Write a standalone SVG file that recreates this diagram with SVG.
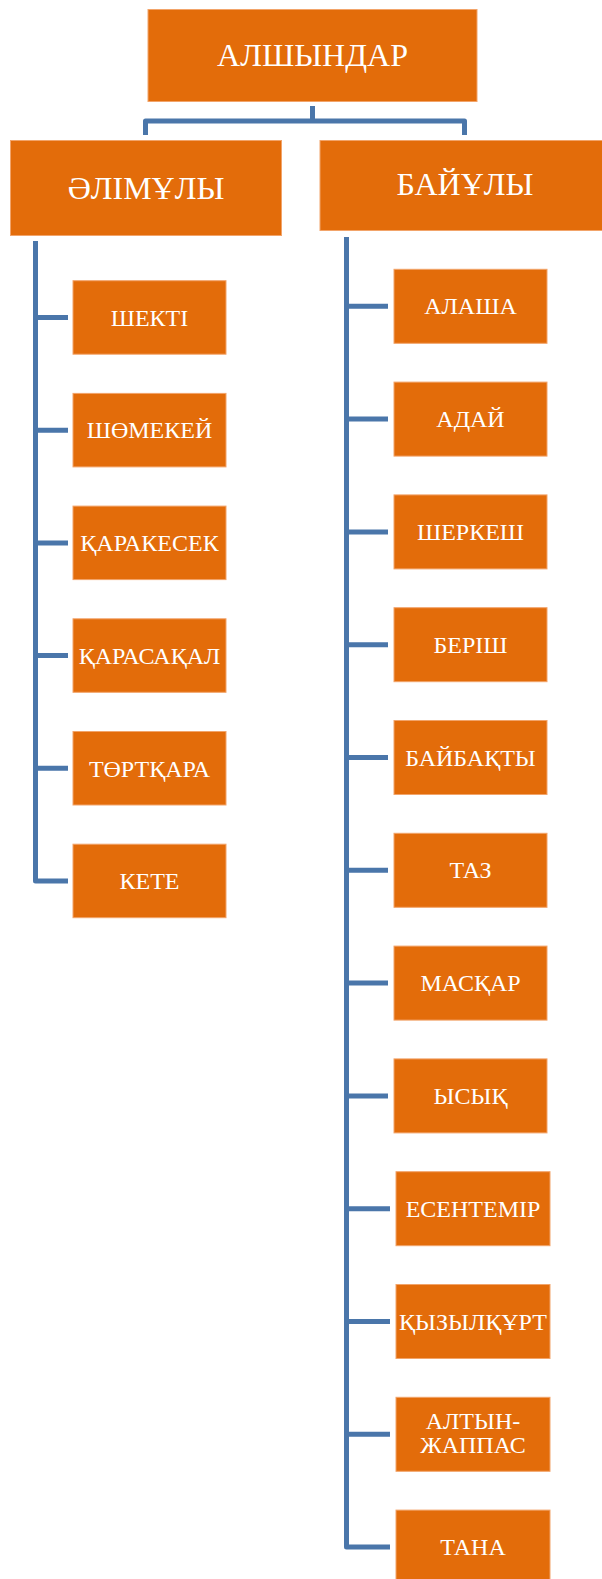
<svg xmlns="http://www.w3.org/2000/svg" width="602" height="1579" viewBox="0 0 602 1579">
<style>
.box{fill:#E36C0A;stroke:#F2A46A;stroke-width:1}
.t{font-family:"Liberation Serif","Times New Roman",serif;fill:#FFFFFF;text-anchor:middle}
.big{font-size:32px}
.sm{font-size:24px}
.ln{fill:none;stroke:#4A76AA;stroke-width:5;stroke-linejoin:round;stroke-linecap:butt}
</style>
<rect width="602" height="1579" fill="#FFFFFF"/>
<g id="connectors">
<path class="ln" d="M312.5,106 V121 M145.5,135 V121 H464.5 V135"/>
<path class="ln" d="M35.5,241 V881 H68 M35.5,317.5 H68 M35.5,430.2 H68 M35.5,542.9 H68 M35.5,655.6 H68 M35.5,768.3 H68"/>
<path class="ln" d="M346.5,237 V1547 H390 M346.5,306.3 H388 M346.5,419.1 H388 M346.5,531.9 H388 M346.5,644.7 H388 M346.5,757.5 H388 M346.5,870.3 H388 M346.5,983.1 H388 M346.5,1095.9 H388 M346.5,1208.7 H390 M346.5,1321.5 H390 M346.5,1434.3 H390"/>
</g>
<g id="n-alshyndar"><rect class="box" x="148" y="9.5" width="329" height="92"/><text class="t big" x="312.5" y="66">АЛШЫНДАР</text></g>
<g id="n-alimuly"><rect class="box" x="10.5" y="140.5" width="271" height="95"/><text class="t big" x="146" y="199">ӘЛІМҰЛЫ</text></g>
<g id="n-baiuly"><rect class="box" x="320" y="140.5" width="290" height="90"/><text class="t big" x="465" y="195">БАЙҰЛЫ</text></g>

<g id="n-shekti"><rect class="box" x="73" y="280.7" width="153" height="73.5"/><text class="t sm" x="149.5" y="325.7">ШЕКТІ</text></g>
<g id="n-shomekei"><rect class="box" x="73" y="393.4" width="153" height="73.5"/><text class="t sm" x="149.5" y="438.4">ШӨМЕКЕЙ</text></g>
<g id="n-karakesek"><rect class="box" x="73" y="506.1" width="153" height="73.5"/><text class="t sm" x="149.5" y="551.1">ҚАРАКЕСЕК</text></g>
<g id="n-karasakal"><rect class="box" x="73" y="618.8" width="153" height="73.5"/><text class="t sm" x="149.5" y="663.8">ҚАРАСАҚАЛ</text></g>
<g id="n-tortkara"><rect class="box" x="73" y="731.5" width="153" height="73.5"/><text class="t sm" x="149.5" y="776.5">ТӨРТҚАРА</text></g>
<g id="n-kete"><rect class="box" x="73" y="844.2" width="153" height="73.5"/><text class="t sm" x="149.5" y="889.2">КЕТЕ</text></g>

<g id="n-alasha"><rect class="box" x="394" y="269.3" width="153" height="74"/><text class="t sm" x="470.5" y="314.3">АЛАША</text></g>
<g id="n-adai"><rect class="box" x="394" y="382.1" width="153" height="74"/><text class="t sm" x="470.5" y="427.1">АДАЙ</text></g>
<g id="n-sherkesh"><rect class="box" x="394" y="494.9" width="153" height="74"/><text class="t sm" x="470.5" y="539.9">ШЕРКЕШ</text></g>
<g id="n-berish"><rect class="box" x="394" y="607.7" width="153" height="74"/><text class="t sm" x="470.5" y="652.7">БЕРІШ</text></g>
<g id="n-baibakty"><rect class="box" x="394" y="720.5" width="153" height="74"/><text class="t sm" x="470.5" y="765.5">БАЙБАҚТЫ</text></g>
<g id="n-taz"><rect class="box" x="394" y="833.3" width="153" height="74"/><text class="t sm" x="470.5" y="878.3">ТАЗ</text></g>
<g id="n-maskar"><rect class="box" x="394" y="946.1" width="153" height="74"/><text class="t sm" x="470.5" y="991.1">МАСҚАР</text></g>
<g id="n-ysyk"><rect class="box" x="394" y="1058.9" width="153" height="74"/><text class="t sm" x="470.5" y="1103.9">ЫСЫҚ</text></g>
<g id="n-esentemir"><rect class="box" x="396" y="1171.7" width="154" height="74"/><text class="t sm" x="473" y="1216.7">ЕСЕНТЕМІР</text></g>
<g id="n-kyzylkurt"><rect class="box" x="396" y="1284.5" width="154" height="74"/><text class="t sm" x="473" y="1329.5">ҚЫЗЫЛҚҰРТ</text></g>
<g id="n-altyn-zhappas"><rect class="box" x="396" y="1397.3" width="154" height="74"/><text class="t sm" x="473" y="1428.8">АЛТЫН-</text><text class="t sm" x="473" y="1452.8">ЖАППАС</text></g>
<g id="n-tana"><rect class="box" x="396" y="1510.1" width="154" height="74"/><text class="t sm" x="473" y="1555.1">ТАНА</text></g>
</svg>
